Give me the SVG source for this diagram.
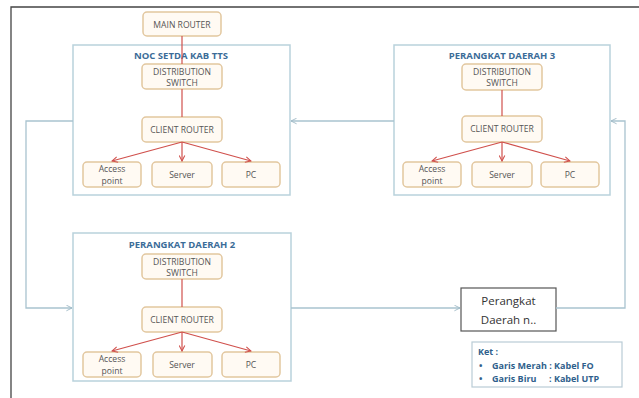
<svg xmlns="http://www.w3.org/2000/svg" width="639" height="398" viewBox="0 0 639 398">
<defs>
<marker id="ar" viewBox="0 0 10 10" refX="9" refY="5" markerWidth="7" markerHeight="7" orient="auto" markerUnits="userSpaceOnUse">
<path d="M1,1 L9,5 L1,9" fill="none" stroke="#d0504c" stroke-width="1.5"/>
</marker>
<marker id="ab" viewBox="0 0 10 10" refX="9" refY="5" markerWidth="7" markerHeight="7" orient="auto" markerUnits="userSpaceOnUse">
<path d="M1,1 L9,5 L1,9" fill="none" stroke="#9fb9c6" stroke-width="1.3"/>
</marker>
<style>
.n{fill:#fffaf3;stroke:#e2c79f;stroke-width:1.5}
.g{fill:#ffffff;stroke:#b9d2dc;stroke-width:1.5}
.t{font-family:"Open Sans","Liberation Sans",sans-serif;font-size:8.6px;fill:#555;text-anchor:middle}
.h{font-family:"Open Sans","Liberation Sans",sans-serif;font-size:9.5px;font-weight:bold;fill:#3b6c98;text-anchor:middle}
.r{stroke:#d0504c;stroke-width:1.2;fill:none}
.b{stroke:#a9c3cf;stroke-width:1.3;fill:none}
.k{font-family:"Open Sans","Liberation Sans",sans-serif;font-size:9px;font-weight:bold;fill:#2f5f8c}
.p{font-family:"Open Sans","Liberation Sans",sans-serif;font-size:11.5px;fill:#333;text-anchor:middle}
</style>
</defs>
<rect width="639" height="398" fill="#fff"/>
<path d="M11,398 V7 H639" fill="none" stroke="#444" stroke-width="1.3"/>

<g id="main-router">
<rect class="n" x="143" y="12" width="78" height="24" rx="4"/>
<text class="t" x="182" y="27.5">MAIN ROUTER</text>
</g>

<g id="noc">
<rect class="g" x="73" y="45" width="217" height="150"/>
<text class="h" x="181" y="59">NOC SETDA KAB TTS</text>
<rect class="n" x="142" y="64" width="80" height="25" rx="4"/>
<text class="t" x="182" y="74.5">DISTRIBUTION</text>
<text class="t" x="182" y="85.5">SWITCH</text>
<rect class="n" x="142" y="117" width="80" height="25" rx="4"/>
<text class="t" x="182" y="132.5">CLIENT ROUTER</text>
<rect class="n" x="83" y="162" width="58" height="25" rx="4"/>
<text class="t" x="112" y="172">Access</text>
<text class="t" x="112" y="183.5">point</text>
<rect class="n" x="152" y="162" width="60" height="25" rx="4"/>
<text class="t" x="182" y="177.5">Server</text>
<rect class="n" x="222" y="162" width="58" height="25" rx="4"/>
<text class="t" x="251" y="177.5">PC</text>
</g>

<g id="pd3">
<rect class="g" x="394" y="45" width="216" height="150"/>
<text class="h" x="502" y="59">PERANGKAT DAERAH 3</text>
<rect class="n" x="462" y="64" width="80" height="26" rx="4"/>
<text class="t" x="502" y="75">DISTRIBUTION</text>
<text class="t" x="502" y="86">SWITCH</text>
<rect class="n" x="462" y="116" width="80" height="26" rx="4"/>
<text class="t" x="502" y="132">CLIENT ROUTER</text>
<rect class="n" x="403" y="162" width="58" height="25" rx="4"/>
<text class="t" x="432" y="172">Access</text>
<text class="t" x="432" y="183.5">point</text>
<rect class="n" x="472" y="162" width="60" height="25" rx="4"/>
<text class="t" x="502" y="177.5">Server</text>
<rect class="n" x="541" y="162" width="58" height="25" rx="4"/>
<text class="t" x="570" y="177.5">PC</text>
</g>

<g id="pd2">
<rect class="g" x="73" y="233" width="218" height="148"/>
<text class="h" x="182" y="248">PERANGKAT DAERAH 2</text>
<rect class="n" x="142" y="254" width="80" height="25" rx="4"/>
<text class="t" x="182" y="264.5">DISTRIBUTION</text>
<text class="t" x="182" y="275.5">SWITCH</text>
<rect class="n" x="142" y="307" width="80" height="25" rx="4"/>
<text class="t" x="182" y="322.5">CLIENT ROUTER</text>
<rect class="n" x="83" y="352" width="58" height="25" rx="4"/>
<text class="t" x="112" y="362">Access</text>
<text class="t" x="112" y="373.5">point</text>
<rect class="n" x="153" y="352" width="59" height="25" rx="4"/>
<text class="t" x="182" y="367.5">Server</text>
<rect class="n" x="222" y="352" width="58" height="25" rx="4"/>
<text class="t" x="251" y="367.5">PC</text>
</g>

<g id="pdn">
<rect x="461" y="288" width="95" height="43" fill="#fff" stroke="#555" stroke-width="1.2"/>
<text class="p" x="508.5" y="305">Perangkat</text>
<text class="p" x="508.5" y="324">Daerah n..</text>
</g>

<g id="ket">
<rect x="472" y="342" width="150" height="45" fill="#fff" stroke="#b9ccd6" stroke-width="1.2"/>
<text class="k" x="478" y="355" fill="#2b4f78">Ket :</text>
<text class="k" x="479" y="369" fill="#444">•</text>
<text class="k" x="492" y="369">Garis Merah : Kabel FO</text>
<text class="k" x="479" y="382" fill="#444">•</text>
<text class="k" x="492" y="382">Garis Biru</text>
<text class="k" x="549" y="382">: Kabel UTP</text>
</g>

<g id="connectors">
<path class="r" d="M182,36 V64"/>
<path class="r" d="M182,89 V117"/>
<path class="r" d="M182,142 L112,161" marker-end="url(#ar)"/>
<path class="r" d="M182,142 V161" marker-end="url(#ar)"/>
<path class="r" d="M182,142 L251,161" marker-end="url(#ar)"/>
<path class="r" d="M502,90 V116"/>
<path class="r" d="M502,142 L432,161" marker-end="url(#ar)"/>
<path class="r" d="M502,142 V161" marker-end="url(#ar)"/>
<path class="r" d="M502,142 L570,161" marker-end="url(#ar)"/>
<path class="r" d="M182,279 V307"/>
<path class="r" d="M182,332 L112,351" marker-end="url(#ar)"/>
<path class="r" d="M182,332 V351" marker-end="url(#ar)"/>
<path class="r" d="M182,332 L251,351" marker-end="url(#ar)"/>
<path class="b" d="M73,121 H26 V308 H72" marker-end="url(#ab)"/>
<path class="b" d="M394,121 H291" marker-end="url(#ab)"/>
<path class="b" d="M291,308 H460" marker-end="url(#ab)"/>
<path class="b" d="M556,308 H625 V121 H611" marker-end="url(#ab)"/>
</g>
</svg>
